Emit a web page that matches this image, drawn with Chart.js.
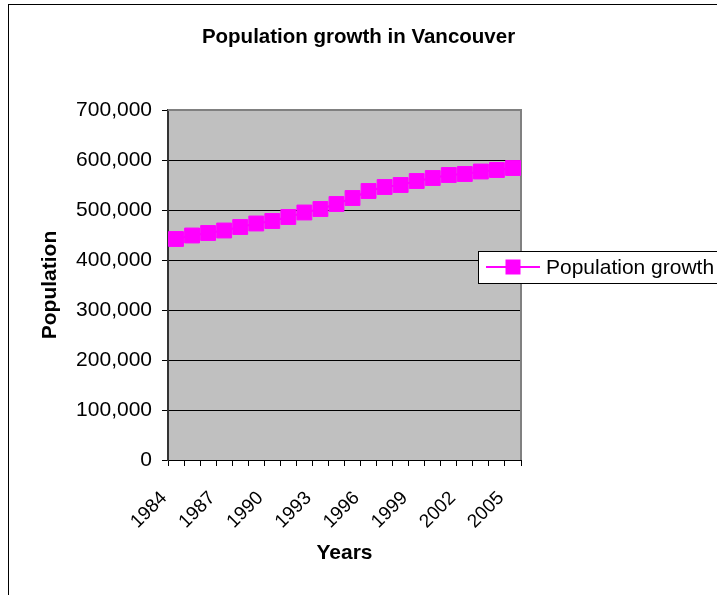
<!DOCTYPE html>
<html>
<head>
<meta charset="utf-8">
<title>Population growth in Vancouver</title>
<script src="https://cdn.jsdelivr.net/npm/chart.js@4.4.1/dist/chart.umd.min.js"></script>
<style>
    html, body { margin: 0; padding: 0; background: #ffffff; overflow: hidden; }
    canvas { display: block; }
</style>
</head>
<body>
<canvas id="populationChart" width="717" height="595"></canvas>
<script>
// data
const years = ['1984', '1985', '1986', '1987', '1988', '1989', '1990', '1991', '1992', '1993', '1994',
               '1995', '1996', '1997', '1998', '1999', '2000', '2001', '2002', '2003', '2004', '2005'];
const population = [442000, 449000, 454000, 459000, 466000, 473000, 478000, 486000, 495000, 502000, 512000,
                    524000, 538000, 546000, 550000, 558000, 564000, 570000, 572000, 577000, 580000, 584000];
const yTicks = [0, 100000, 200000, 300000, 400000, 500000, 600000, 700000];
const chartTitle = 'Population growth in Vancouver';
const seriesName = 'Population growth';

const FONT = 'Arial, "Liberation Sans", sans-serif';
const MAGENTA = '#FF00FF';

// grey plot background, outer frame, title, plot border and the boxed legend
const plotFrame = {
    id: 'plotFrame',
    beforeDraw(chart) {
        const ctx = chart.ctx;
        const a = chart.chartArea;
        ctx.save();
        ctx.fillStyle = '#ffffff';
        ctx.fillRect(0, 0, chart.width, chart.height);
        ctx.strokeStyle = '#000000';
        ctx.lineWidth = 1;
        ctx.strokeRect(8.5, 4.5, chart.width + 50, chart.height + 50);
        ctx.fillStyle = '#C0C0C0';
        ctx.fillRect(a.left, a.top, a.right - a.left, a.bottom - a.top);
        // chart title, centred on the whole frame
        ctx.fillStyle = '#000000';
        ctx.font = 'bold 20.5px ' + FONT;
        ctx.textAlign = 'center';
        ctx.textBaseline = 'middle';
        ctx.fillText(chartTitle, chart.width / 2, 37);
        ctx.restore();
    },
    beforeDatasetsDraw(chart) {
        const ctx = chart.ctx;
        const a = chart.chartArea;
        ctx.save();
        ctx.strokeStyle = '#808080';
        ctx.lineWidth = 2;
        ctx.beginPath();
        ctx.moveTo(a.left, a.top);
        ctx.lineTo(a.right, a.top);
        ctx.lineTo(a.right, a.bottom);
        ctx.stroke();
        ctx.restore();
    },
    afterDraw(chart) {
        const ctx = chart.ctx;
        const a = chart.chartArea;
        const boxX = a.right - 43;
        const boxY = 251;
        const boxH = 32;
        const midY = boxY + boxH / 2;
        ctx.save();
        ctx.fillStyle = '#ffffff';
        ctx.fillRect(boxX, boxY, chart.width - boxX + 10, boxH);
        ctx.strokeStyle = '#000000';
        ctx.lineWidth = 1;
        ctx.strokeRect(boxX + 0.5, boxY + 0.5, chart.width - boxX + 10, boxH);
        ctx.strokeStyle = MAGENTA;
        ctx.lineWidth = 2;
        ctx.beginPath();
        ctx.moveTo(boxX + 8, midY);
        ctx.lineTo(boxX + 62, midY);
        ctx.stroke();
        ctx.fillStyle = MAGENTA;
        ctx.fillRect(boxX + 35 - 7.5, midY - 7.5, 15, 15);
        ctx.fillStyle = '#000000';
        ctx.font = '21px ' + FONT;
        ctx.textBaseline = 'middle';
        ctx.textAlign = 'left';
        ctx.fillText(seriesName, boxX + 68, midY + 1);
        ctx.restore();
    }
};

const ctx = document.getElementById('populationChart');

const populationChart = new Chart(ctx, {
    type: 'line',
    data: {
        labels: years,
        datasets: [{
            label: seriesName,
            data: population,
            borderColor: MAGENTA,
            backgroundColor: MAGENTA,
            borderWidth: 2,
            tension: 0,
            fill: false,
            pointStyle: 'rect',
            pointRadius: 10.5,
            pointBorderWidth: 1,
            pointBackgroundColor: MAGENTA,
            pointBorderColor: MAGENTA,
            clip: false
        }]
    },
    options: {
        responsive: false,
        animation: false,
        layout: {
            padding: { left: 0, right: 196, top: 110, bottom: 0 }
        },
        scales: {
            x: {
                type: 'category',
                offset: true,
                afterFit(scale) {
                    scale.height = 135;
                },
                grid: {
                    offset: true,
                    drawOnChartArea: false,
                    drawTicks: true,
                    tickLength: 6,
                    tickColor: '#000000'
                },
                border: {
                    color: '#000000',
                    width: 1
                },
                ticks: {
                    autoSkip: false,
                    maxRotation: 45,
                    minRotation: 45,
                    padding: 21,
                    labelOffset: -12,
                    color: '#000000',
                    font: { family: FONT, size: 19 },
                    callback: function(value, index) {
                        return index % 3 === 0 ? years[index] : '';
                    }
                },
                title: {
                    display: true,
                    text: 'Years',
                    color: '#000000',
                    font: { family: FONT, size: 21, weight: 'bold' },
                    padding: { top: 0, bottom: 29.5 }
                }
            },
            y: {
                min: 0,
                max: 700000,
                afterFit(scale) {
                    scale.width = 168;
                },
                afterBuildTicks(scale) {
                    scale.ticks = yTicks.map(v => ({ value: v }));
                },
                grid: {
                    color: function(context) {
                        return context.tick && context.tick.value === 700000 ? 'rgba(0,0,0,0)' : '#000000';
                    },
                    lineWidth: 1,
                    drawTicks: true,
                    tickLength: 6,
                    tickColor: '#000000'
                },
                border: {
                    color: '#333333',
                    width: 2
                },
                ticks: {
                    padding: 10,
                    color: '#000000',
                    font: { family: FONT, size: 21 },
                    callback: function(value) {
                        return value.toLocaleString('en-US');
                    }
                },
                title: {
                    display: true,
                    text: 'Population',
                    color: '#000000',
                    font: { family: FONT, size: 21, weight: 'bold' },
                    padding: { top: 37.5, bottom: 0 }
                }
            }
        },
        plugins: {
            legend: {
                display: false
            },
            tooltip: {
                enabled: false
            }
        }
    },
    plugins: [plotFrame]
});
</script>
</body>
</html>
